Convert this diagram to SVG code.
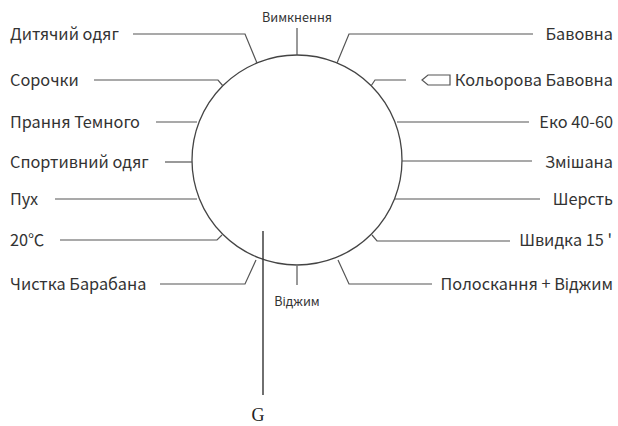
<svg xmlns="http://www.w3.org/2000/svg" width="618" height="426" viewBox="0 0 618 426">
  <style>
    .lead { fill: none; stroke: #555; stroke-width: 1.2; }
    .lbl { font-family: "Noto Sans CJK SC", "Noto Sans", sans-serif; font-size: 16.3px; fill: #333; }
    .sm { font-family: "Noto Sans CJK SC", "Noto Sans", sans-serif; font-size: 12.6px; fill: #333; text-anchor: middle; }
    .r { text-anchor: end; }
  </style>
  <rect width="618" height="426" fill="#fff"/>

  <!-- programme dial -->
  <g id="dial">
    <circle cx="297" cy="160" r="105" fill="none" stroke="#444" stroke-width="1.3"/>
  </g>

  <!-- leader lines from labels to the dial -->
  <g id="connectors" class="lead">
    <path d="M297 28 V55"/>
    <path d="M133 34 H245 L257 63"/>
    <path d="M94 80 H218 L223 86"/>
    <path d="M156 122 H197"/>
    <path d="M165 162 H192"/>
    <path d="M55 199 H197"/>
    <path d="M60 240 H217 L222 235"/>
    <path d="M160 284 H245 L256 260"/>
    <path d="M297 266 V285"/>
    <path d="M533 34 H349 L337 63"/>
    <path d="M406 80 H375 L371 86"/>
    <path d="M529 122 H397"/>
    <path d="M532 161 H402"/>
    <path d="M540 199 H395"/>
    <path d="M510 241 H377 L372 235"/>
    <path d="M432 284 H349 L338 260"/>
    <path d="M263 231 V395" stroke="#333" stroke-width="1.4"/>
  </g>

  <g id="vymknennia"><text class="sm" x="297" y="22">Вимкнення</text></g>
  <g id="dytiachyi"><text class="lbl" x="10" y="40">Дитячий одяг</text></g>
  <g id="sorochky"><text class="lbl" x="10" y="86">Сорочки</text></g>
  <g id="temne"><text class="lbl" x="10" y="128">Прання Темного</text></g>
  <g id="sport"><text class="lbl" x="10" y="168">Спортивний одяг</text></g>
  <g id="pukh"><text class="lbl" x="10" y="205">Пух</text></g>
  <g id="t20"><text class="lbl" x="10" y="246">20℃</text></g>
  <g id="chystka"><text class="lbl" x="10" y="290">Чистка Барабана</text></g>
  <g id="vidzhym"><text class="sm" x="297" y="306">Віджим</text></g>

  <g id="bavovna"><text class="lbl r" x="613" y="40">Бавовна</text></g>
  <g id="kolorova">
    <path class="lead" d="M422 80 L428 75 H450 V85 H428 Z"/>
    <text class="lbl r" x="613" y="86">Кольорова Бавовна</text>
  </g>
  <g id="eko"><text class="lbl r" x="613" y="128">Еко 40-60</text></g>
  <g id="zmishana"><text class="lbl r" x="613" y="168">Змішана</text></g>
  <g id="sherst"><text class="lbl r" x="613" y="205">Шерсть</text></g>
  <g id="shvydka"><text class="lbl r" x="612" y="246">Швидка 15 '</text></g>
  <g id="poloskannia"><text class="lbl r" x="613" y="290">Полоскання + Віджим</text></g>

  <g id="g-mark"><text x="258" y="421" font-family="Liberation Serif, serif" font-size="18" fill="#222" text-anchor="middle">G</text></g>
</svg>
